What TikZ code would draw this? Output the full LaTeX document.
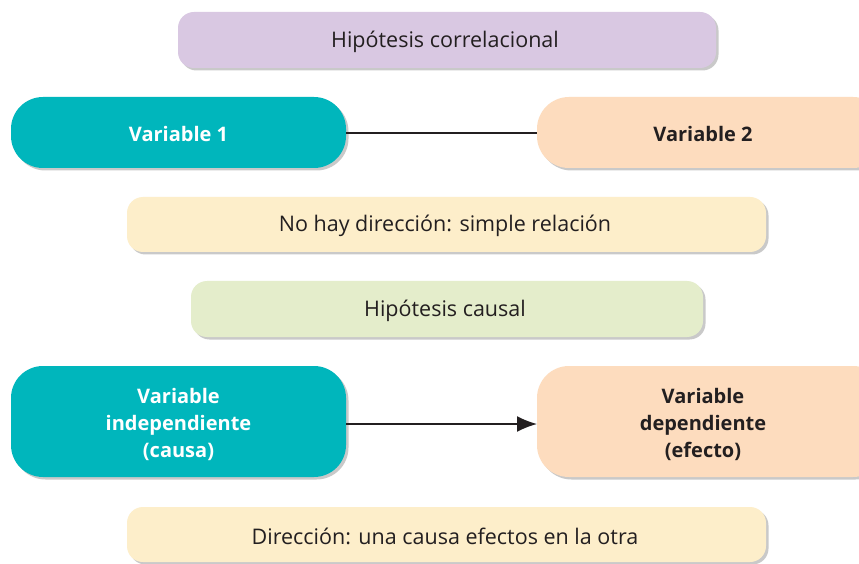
\documentclass[tikz,border=0pt]{standalone}
\usepackage{fontspec}
\setmainfont{Open Sans}
\usetikzlibrary{shadows,arrows.meta}
\definecolor{lilac}{HTML}{D9C8E2}
\definecolor{teal}{HTML}{00B6BC}
\definecolor{peach}{HTML}{FDDCBE}
\definecolor{cream}{HTML}{FDEECA}
\definecolor{sage}{HTML}{E4EDCB}
\definecolor{ink}{HTML}{231F20}
\tikzset{
  box/.style={rounded corners=#1, inner sep=0pt,
    drop shadow={shadow xshift=2.5pt, shadow yshift=-2.5pt, opacity=0.35, fill=black!60}},
  box/.default=16pt,
  lbl/.style={align=center, font=\fontsize{21.5}{25}\selectfont},
  blbl/.style={align=center, font=\bfseries\fontsize{20}{27}\selectfont},
}
\begin{document}
\begin{tikzpicture}[x=1pt,y=1pt]
\useasboundingbox (0,0) rectangle (859,563);
\clip (0,0) rectangle (859,563);
\fill[white] (0,0) rectangle (859,563);
\path[box, fill=lilac] (178,563-68) rectangle (716,563-12);
\node[lbl, text=ink] (t1) at (445,563-42) {Hipótesis correlacional};
\path[box=32pt, fill=teal] (11,563-168) rectangle (346,563-97);
\node[blbl, text=white] (v1) at (178.5,563-134) {Variable 1};
\coordinate (v1e) at (346,563-133);
\path[box=32pt, fill=peach] (537,563-168) rectangle (885,563-97);
\node[blbl, text=ink] (v2) at (703,563-134) {Variable 2};
\coordinate (v2w) at (537,563-133);
\draw[ink, line width=1.6pt] (v1e) -- (v2w);
\path[box, fill=cream] (127,563-252) rectangle (766,563-197);
\node[lbl, text=ink] (t2) at (445,563-226) {No hay dirección: simple relación};
\path[box, fill=sage] (191,563-337) rectangle (703,563-281);
\node[lbl, text=ink] (t3) at (445,563-311) {Hipótesis causal};
\path[box=32pt, fill=teal] (11,563-477) rectangle (346,563-366);
\node[blbl, text=white] (vi) at (178.5,563-424) {Variable\\independiente\\(causa)};
\coordinate (vie) at (346,563-424);
\path[box=32pt, fill=peach] (537,563-477) rectangle (885,563-366);
\node[blbl, text=ink] (vd) at (703,563-424) {Variable\\dependiente\\(efecto)};
\coordinate (vdw) at (537,563-424);
\draw[ink, line width=1.6pt, -{Latex[length=20pt,width=16pt]}] (vie) -- (vdw);
\path[box, fill=cream] (127,563-562) rectangle (766,563-507);
\node[lbl, text=ink] (t4) at (445,563-536) {Dirección: una causa efectos en la otra};
\end{tikzpicture}
\end{document}
